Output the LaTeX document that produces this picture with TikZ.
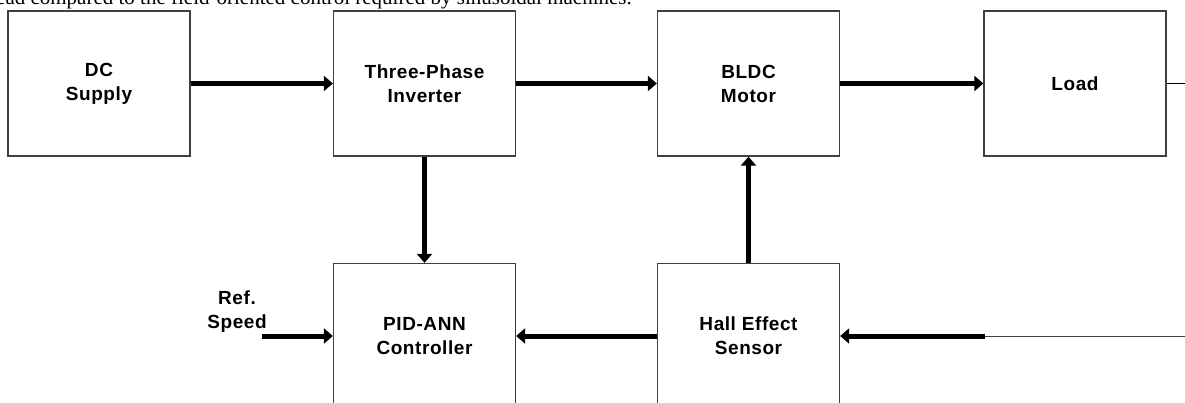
\documentclass[tikz,border=0pt]{standalone}
\usepackage{fontspec}
\setmainfont{Liberation Serif}
\newfontfamily\arialfont[LetterSpace=3]{Liberation Sans}
\usetikzlibrary{arrows.meta}
\definecolor{boxline}{HTML}{404040}
\tikzset{
  blockbox/.style={draw=boxline, line width=1.3pt, minimum width=182pt, minimum height=145pt,
    inner sep=0pt, align=center, font=\arialfont\bfseries\fontsize{19}{24}\selectfont},
  lbl/.style={align=center, inner sep=0pt, font=\arialfont\bfseries\fontsize{19}{24}\selectfont},
  flow/.style={line width=5pt, -{Triangle[length=9pt,width=15pt]}},
  thinline/.style={line width=1pt, draw=black!75},
}
\begin{document}
\begin{tikzpicture}[x=1pt,y=-1pt]
\useasboundingbox (0,0) rectangle (1185,403);
\clip (0,0) rectangle (1185,403);
\node[anchor=base east, inner sep=0pt, font=\fontsize{21}{24}\selectfont] (topline) at (632,4.5) {overhead compared to the field-oriented control required by sinusoidal machines.};
\node[blockbox] (dc) at (99,83.5) {DC\\Supply};
\node[blockbox] (inv) at (424.5,83.5) {Three-Phase\\Inverter};
\node[blockbox] (bldc) at (748.5,83.5) {BLDC\\Motor};
\node[blockbox] (load) at (1075,83.5) {Load};
\node[blockbox] (pid) at (424.5,336) {PID-ANN\\Controller};
\node[blockbox] (hall) at (748.5,336) {Hall Effect\\Sensor};
\node[lbl] (ref) at (237,312) {Ref.\\Speed};
\coordinate (refstart) at (262,336);
\coordinate (tap) at (985,336);
\coordinate (rightend) at (1186,336);
\coordinate (loadend) at (1186,83.5);
\draw[flow] (dc) -- (inv);
\draw[flow] (inv) -- (bldc);
\draw[flow] (bldc) -- (load);
\draw[flow] (inv) -- (pid);
\draw[flow] (hall) -- (bldc);
\draw[flow] (hall) -- (pid);
\draw[flow] (refstart) -- (pid.west |- refstart);
\draw[flow] (tap) -- (hall.east |- tap);
\draw[thinline] (tap) -- (rightend);
\draw[line width=1pt] (load.east) -- (loadend);
\end{tikzpicture}
\end{document}
